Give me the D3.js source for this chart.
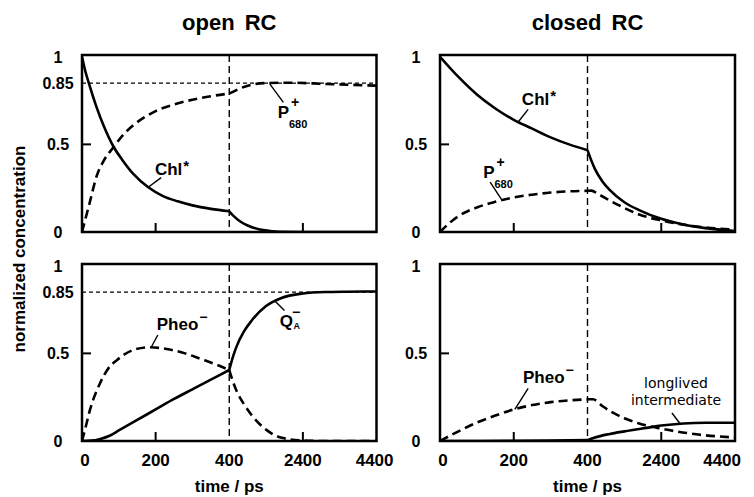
<!DOCTYPE html>
<html lang="en">
<head>
<meta charset="utf-8">
<style>
  html, body { margin: 0; padding: 0; background: #fff; }
  svg { display: block; }
  text { font-family: "Liberation Sans", Arial, sans-serif; font-weight: bold; fill: #000; }
</style>
</head>
<body>
<svg width="754" height="497"></svg>
<script src="https://d3js.org/d3.v7.min.js"></script>
<script>
// ---- data: [time (ps), normalized concentration] ----
const xTickValues = [0, 200, 400, 2400, 4400];
const yTicksOpen = [0, 0.5, 0.85, 1];
const yTicksClosed = [0, 0.5, 1];

const chlOpen = [[0,1],[10,0.91],[20,0.84],[40,0.71],[60,0.6],[86,0.485],[110,0.41],[140,0.33],[180,0.255],
  [220,0.205],[260,0.175],[300,0.152],[350,0.132],[400,0.118],[500,0.095],[700,0.06],[900,0.037],
  [1200,0.016],[1500,0.006],[1800,0.001],[2400,0],[4400,0]];
const p680Open = [[0,0],[10,0.08],[20,0.16],[40,0.32],[60,0.41],[86,0.485],[110,0.55],[140,0.61],[170,0.655],
  [200,0.69],[250,0.728],[300,0.755],[350,0.775],[400,0.79],[500,0.8],[700,0.82],[1000,0.84],[1400,0.85],
  [2000,0.852],[3000,0.845],[4400,0.835]];
const chlClosed = [[0,1],[50,0.885],[100,0.785],[150,0.705],[200,0.64],[250,0.59],[300,0.54],[350,0.5],
  [400,0.467],[500,0.41],[600,0.36],[800,0.29],[1000,0.24],[1400,0.17],[1800,0.125],[2400,0.075],
  [3000,0.043],[3600,0.022],[4400,0.006]];
const p680Closed = [[0,0],[25,0.05],[50,0.09],[100,0.14],[150,0.172],[200,0.197],[250,0.213],[300,0.225],
  [350,0.232],[400,0.235],[500,0.236],[700,0.215],[1000,0.18],[1400,0.137],[1800,0.1],[2400,0.066],
  [3000,0.042],[3600,0.026],[4400,0.013]];
const pheoOpen = [[0,0],[10,0.08],[22,0.18],[49,0.33],[70,0.41],[94,0.46],[140,0.52],[184,0.535],[230,0.525],
  [280,0.5],[320,0.47],[360,0.44],[400,0.405],[500,0.34],[600,0.285],[800,0.21],[1000,0.15],[1400,0.065],
  [1800,0.02],[2400,0.003],[3000,0],[4400,0]];
const qaOpen = [[0,0],[25,0.002],[50,0.012],[75,0.03],[100,0.06],[150,0.12],[200,0.18],[250,0.24],[300,0.295],
  [350,0.35],[400,0.405],[500,0.48],[600,0.54],[800,0.625],[1000,0.685],[1400,0.77],[1800,0.815],
  [2400,0.842],[3000,0.85],[3600,0.852],[4400,0.853]];
const pheoClosed = [[0,0],[50,0.055],[100,0.105],[150,0.145],[200,0.18],[250,0.205],[300,0.222],[350,0.232],
  [400,0.238],[550,0.238],[800,0.2],[1100,0.16],[1400,0.13],[1800,0.1],[2300,0.075],[2800,0.055],
  [3400,0.037],[4400,0.02]];
const longlivedClosed = [[0,0],[200,0.001],[300,0.003],[400,0.005],[600,0.02],[1000,0.04],[1400,0.055],
  [2000,0.075],[2400,0.088],[3000,0.1],[3600,0.104],[4400,0.104]];

const svg = d3.select("svg");

// layout
const cols = [{x0: 82, x1: 376.5, title: "open RC"}, {x0: 440, x1: 735, title: "closed RC"}];
const rows = [{y0: 55, y1: 232}, {y0: 264, y1: 441}];

// labels: text position and leader line in data coordinates
const panels = [
  {col: 0, row: 0, yTicks: yTicksOpen, ref85: true,
   series: [{data: chlOpen, dashed: false}, {data: p680Open, dashed: true}],
   labels: [
     {t: 198, v: 0.325, main: "Chl", sup: "*", lead: [215, 0.31, 180, 0.255]},
     {t: 1715, v: 0.65, main: "P", sub: "680", sup: "+", lead: [1500, 0.845, 1870, 0.74]}
   ]},
  {col: 1, row: 0, yTicks: yTicksClosed, ref85: false,
   series: [{data: chlClosed, dashed: false}, {data: p680Closed, dashed: true}],
   labels: [
     {t: 222, v: 0.724, main: "Chl", sup: "*", lead: [239, 0.7, 212, 0.628]},
     {t: 117, v: 0.308, main: "P", sub: "680", sup: "+", lead: [136, 0.285, 168, 0.182]}
   ]},
  {col: 0, row: 1, yTicks: yTicksOpen, ref85: true, xAxis: true,
   series: [{data: pheoOpen, dashed: true}, {data: qaOpen, dashed: false}],
   labels: [
     {t: 203, v: 0.632, main: "Pheo", sup: "\u2212", lead: [206, 0.605, 188, 0.535]},
     {t: 1770, v: 0.652, main: "Q", sub: "A", sup: "\u2212", lead: [1900, 0.745, 1634, 0.8]}
   ]},
  {col: 1, row: 1, yTicks: yTicksClosed, ref85: false, xAxis: true,
   series: [{data: pheoClosed, dashed: true}, {data: longlivedClosed, dashed: false}],
   labels: [
     {t: 225, v: 0.33, main: "Pheo", sup: "\u2212", lead: [239, 0.3, 203, 0.181]},
     {t: 2800, v: 0.302, plain: ["longlived", "intermediate"], lead: [2690, 0.16, 2908, 0.1]}
   ]}
];

// titles
cols.forEach(c => {
  svg.append("text")
    .attr("x", (c.x0 + c.x1) / 2).attr("y", 30)
    .attr("text-anchor", "middle")
    .attr("font-size", 22)
    .attr("word-spacing", 4)
    .text(c.title);
});

// y axis title
svg.append("text")
  .attr("transform", "translate(25,249) rotate(-90)")
  .attr("text-anchor", "middle")
  .attr("font-size", 17)
  .text("normalized concentration");

panels.forEach((p, i) => {
  const c = cols[p.col], r = rows[p.row];
  const mid = (c.x0 + c.x1) / 2;
  const x = d3.scaleLinear().domain([0, 400, 4400]).range([c.x0, mid, c.x1]);
  const y = d3.scaleLinear().domain([0, 1.01]).range([r.y1, r.y0]);
  const g = svg.append("g");

  g.append("clipPath").attr("id", "clip" + i)
    .append("rect").attr("x", c.x0).attr("y", r.y0)
    .attr("width", c.x1 - c.x0).attr("height", r.y1 - r.y0);

  // reference lines
  if (p.ref85) {
    g.append("line")
      .attr("x1", c.x0).attr("x2", c.x1)
      .attr("y1", y(0.85)).attr("y2", y(0.85))
      .attr("stroke", "#000").attr("stroke-width", 1.2)
      .attr("stroke-dasharray", "4,3");
  }
  g.append("line")
    .attr("x1", x(400)).attr("x2", x(400))
    .attr("y1", r.y0).attr("y2", r.y1)
    .attr("stroke", "#000").attr("stroke-width", 1.4)
    .attr("stroke-dasharray", "7,4");

  // curves, split at 400 ps where the time axis changes scale
  const line = d3.line().x(d => x(d[0])).y(d => y(d[1])).curve(d3.curveMonotoneX);
  p.series.forEach(s => {
    const d = line(s.data.filter(q => q[0] <= 400)) + line(s.data.filter(q => q[0] >= 400));
    g.append("path")
      .attr("d", d)
      .attr("clip-path", `url(#clip${i})`)
      .attr("fill", "none")
      .attr("stroke", "#000")
      .attr("stroke-width", 2.6)
      .attr("stroke-dasharray", s.dashed ? "9,5" : null);
  });

  // frame
  g.append("rect")
    .attr("x", c.x0).attr("y", r.y0)
    .attr("width", c.x1 - c.x0).attr("height", r.y1 - r.y0)
    .attr("fill", "none").attr("stroke", "#000").attr("stroke-width", 2.5);

  // inner ticks
  g.append("line")
    .attr("x1", c.x0).attr("x2", c.x0 + 9)
    .attr("y1", y(0.5)).attr("y2", y(0.5))
    .attr("stroke", "#000").attr("stroke-width", 2);
  [200, 2400].forEach(t => {
    g.append("line")
      .attr("x1", x(t)).attr("x2", x(t))
      .attr("y1", r.y1).attr("y2", r.y1 - 9)
      .attr("stroke", "#000").attr("stroke-width", 2);
  });

  // y tick labels
  p.yTicks.forEach(v => {
    g.append("text")
      .attr("x", c.x0 - 24).attr("y", y(v))
      .attr("dy", "0.36em")
      .attr("text-anchor", "middle")
      .attr("font-size", 16)
      .text(d3.format("~g")(v));
  });

  // x tick labels
  if (p.xAxis) {
    xTickValues.forEach((t, k) => {
      const last = k === xTickValues.length - 1;
      g.append("text")
        .attr("x", last ? Math.min(x(t) + 17, 741) : x(t) + (k === 0 ? 3 : 0))
        .attr("y", 466)
        .attr("text-anchor", last ? "end" : "middle")
        .attr("font-size", 17)
        .text(t);
    });
    g.append("text")
      .attr("x", mid).attr("y", 492)
      .attr("text-anchor", "middle")
      .attr("font-size", 17)
      .text("time / ps");
  }

  // annotations
  p.labels.forEach(l => {
    const ld = l.lead;
    g.append("line")
      .attr("x1", x(ld[0])).attr("y1", y(ld[1]))
      .attr("x2", x(ld[2])).attr("y2", y(ld[3]))
      .attr("stroke", "#000").attr("stroke-width", 1.4);
    if (l.plain) {
      l.plain.forEach((s, k) => {
        g.append("text")
          .attr("x", x(l.t)).attr("y", y(l.v) + k * 17)
          .attr("text-anchor", "middle")
          .attr("font-size", 14)
          .style("font-family", "'DejaVu Sans', sans-serif")
          .style("font-weight", "normal")
          .text(s);
      });
      return;
    }
    const px = x(l.t), py = y(l.v);
    const t = g.append("text").attr("x", px).attr("y", py).attr("font-size", 17).text(l.main);
    const w = t.node().getComputedTextLength();
    if (l.sub) {
      const big = l.sub.length > 1;
      g.append("text")
        .attr("x", px + w + (big ? 0 : 0.5))
        .attr("y", py + (big ? 10 : 2))
        .attr("font-size", big ? 11 : 9)
        .text(l.sub);
    }
    if (l.sup) {
      let dx = 1, dy = -8, fs = 14;
      if (l.sup === "*") { dy = -4; fs = 15; }
      if (l.sup === "+") { dx = 2; dy = -11; }
      if (l.sub === "A") { dx = -1; dy = -10; }
      g.append("text")
        .attr("x", px + w + dx).attr("y", py + dy)
        .attr("font-size", fs)
        .text(l.sup);
    }
  });
});
</script>
</body>
</html>
